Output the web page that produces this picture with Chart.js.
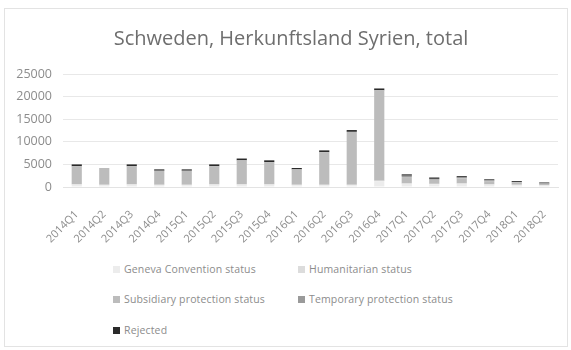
<!DOCTYPE html>
<html><head><meta charset="utf-8">
<script src="https://cdn.jsdelivr.net/npm/chart.js@4"></script>
<style>
html,body{margin:0;padding:0;background:#fff;}
#wrap{position:relative;width:571px;height:350px;}
#frame{position:absolute;left:4px;top:8px;width:564px;height:339px;border:1px solid #e3e3e3;box-sizing:border-box;}
#cv{position:absolute;left:0;top:0;}
#legend{position:absolute;left:113px;top:262px;width:440px;font-family:"Open Sans",sans-serif;font-size:10.5px;color:#8c8c8c;letter-spacing:0.15px;}
.li{position:absolute;white-space:nowrap;}
.sw{display:inline-block;width:7px;height:7px;margin-right:4px;vertical-align:0px;}
</style></head>
<body><div id="wrap"><div id="frame"></div><canvas id="cv" width="571" height="262"></canvas><div id="legend"></div></div>
<script>
const categories = ["2014Q1","2014Q2","2014Q3","2014Q4","2015Q1","2015Q2","2015Q3","2015Q4","2016Q1","2016Q2","2016Q3","2016Q4","2017Q1","2017Q2","2017Q3","2017Q4","2018Q1","2018Q2"];
const geneva      = [500,400,500,400,400,500,500,500,400,400,400,1300,700,600,700,500,400,300];
const humanitarian= [100,100,100,100,100,100,100,100,100,100,100,100,100,100,100,100,100,100];
const subsidiary  = [4000,3700,4000,3100,3100,4000,5300,4900,3400,7200,11700,20000,1400,900,1100,700,500,300];
const temporary   = [0,0,0,0,0,0,0,0,0,0,0,0,300,200,200,200,100,100];
const rejected    = [400,0,400,300,300,400,400,400,300,400,400,400,300,300,300,200,200,200];
const yTicks = [0,5000,10000,15000,20000,25000];

const seriesNames = ["Geneva Convention status","Humanitarian status","Subsidiary protection status","Temporary protection status","Rejected"];
const seriesColors = ["#ececec","#dcdcdc","#bcbcbc","#9a9a9a","#2a2a2a"];
const seriesData = [geneva,humanitarian,subsidiary,temporary,rejected];

const datasets = seriesNames.map((n,i)=>({label:n,data:seriesData[i],backgroundColor:seriesColors[i],borderWidth:0,categoryPercentage:0.37,barPercentage:1}));

new Chart(document.getElementById('cv'),{
  type:'bar',
  data:{labels:categories,datasets},
  options:{
    responsive:false,animation:false,
    layout:{padding:{left:0,right:13,top:0,bottom:0}},
    plugins:{
      legend:{display:false},
      tooltip:{enabled:false},
      title:{display:true,text:"Schweden, Herkunftsland Syrien, total",color:"#6e6e6e",font:{family:"Open Sans",size:20,weight:'normal'},padding:{top:27,bottom:23}}
    },
    scales:{
      x:{stacked:true,grid:{display:false},border:{display:true,color:"#e3e3e3"},
         afterFit:s=>{s.height=75;},
         ticks:{color:"#8c8c8c",font:{family:"Open Sans",size:11},minRotation:45,maxRotation:45,autoSkip:false,padding:13}},
      y:{stacked:true,min:0,max:25000,afterBuildTicks:s=>{s.ticks=yTicks.map(v=>({value:v}));},
         afterFit:s=>{s.width=63;},
         grid:{color:"#e8e8e8",drawTicks:false},border:{display:false},
         ticks:{color:"#8c8c8c",font:{family:"Open Sans",size:12.5},padding:11,callback:v=>String(v)}}
    }
  },
  plugins:[{id:'titlePos',afterLayout(c){const t=c.titleBlock; if(t){t.left=12;t.right=570;t.width=558;}}}]
});

const lg=document.getElementById('legend');
const pos=[[0,0],[185,0],[0,30],[185,30],[0,61]];
seriesNames.forEach((n,i)=>{
  const d=document.createElement('div');d.className='li';
  d.style.left=pos[i][0]+'px';d.style.top=pos[i][1]+'px';
  d.innerHTML='<span class="sw" style="background:'+seriesColors[i]+'"></span>'+n;
  lg.appendChild(d);
});
</script></body></html>
